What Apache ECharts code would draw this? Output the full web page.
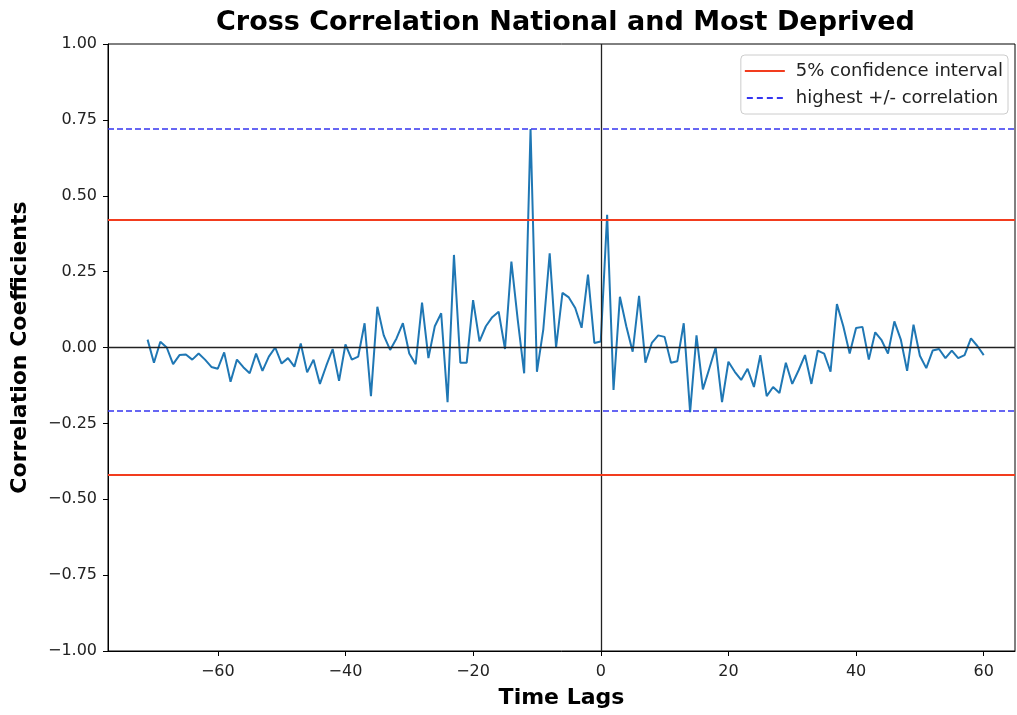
<!DOCTYPE html>
<html>
<head>
<meta charset="utf-8">
<script src="https://cdn.jsdelivr.net/npm/echarts@6/dist/echarts.min.js"></script>
<style>
  html, body { margin: 0; padding: 0; background: #fff; }
  #chart { width: 1017px; height: 715px; }
</style>
</head>
<body>
<div id="chart"></div>
<script>
// first lag of the series, one value per lag after that
var firstLag = -71;
var correlations = [
    0.026, -0.05, 0.019, 0.0, -0.055, -0.025, -0.023, -0.04, -0.02, -0.04,
    -0.064, -0.07, -0.016, -0.113, -0.04, -0.065, -0.085, -0.02, -0.077, -0.03,
    0.0, -0.053, -0.035, -0.063, 0.013, -0.082, -0.04, -0.12, -0.06, -0.005,
    -0.11, 0.01, -0.04, -0.03, 0.08, -0.16, 0.134, 0.04, -0.008, 0.03,
    0.08, -0.02, -0.055, 0.148, -0.035, 0.07, 0.113, -0.18, 0.305, -0.05,
    -0.05, 0.156, 0.02, 0.07, 0.1, 0.118, -0.005, 0.283, 0.09, -0.085,
    0.72, -0.08, 0.06, 0.31, 0.0, 0.18, 0.165, 0.13, 0.065, 0.24,
    0.015, 0.02, 0.437, -0.14, 0.167, 0.07, -0.014, 0.17, -0.05, 0.015,
    0.04, 0.035, -0.05, -0.045, 0.08, -0.213, 0.04, -0.138, -0.07, 0.0,
    -0.18, -0.047, -0.08, -0.107, -0.07, -0.13, -0.025, -0.16, -0.13, -0.15,
    -0.05, -0.12, -0.075, -0.025, -0.12, -0.01, -0.02, -0.08, 0.143, 0.07,
    -0.02, 0.064, 0.068, -0.04, 0.05, 0.024, -0.02, 0.086, 0.027, -0.077,
    0.075, -0.027, -0.068, -0.01, -0.005, -0.035, -0.01, -0.035, -0.025, 0.03,
    0.005, -0.025
];
var confidenceLevel = 0.42;
var highestPos = 0.72;
var highestNeg = -0.213;
var xTicks = [-60, -40, -20, 0, 20, 40, 60];

var points = [];
for (var i = 0; i < correlations.length; i++) {
    points.push([firstLag + i, correlations[i]]);
}

function fmtMinus(s) {
    return String(s).replace('-', '\u2212');
}

var redColor = '#f23c1e';
var blueColor = '#3535f0';
// legend glyphs: plain stroke and a dashed stroke
var solidIcon = 'path://M0,0 H40 V2 H0 Z';
var dashedIcon = 'path://M0,0 H6 V2 H0 Z M10,0 H16 V2 H10 Z M20,0 H26 V2 H20 Z M30,0 H36 V2 H30 Z';

var chart = echarts.init(document.getElementById('chart'), null, {renderer: 'canvas'});

var option = {
    animation: false,
    textStyle: { fontFamily: 'DejaVu Sans' },
    title: {
        text: 'Cross Correlation National and Most Deprived',
        left: 211,
        top: 4,
        textStyle: { fontSize: 27, fontWeight: 'bold', color: '#000', fontFamily: 'DejaVu Sans' }
    },
    legend: {
        right: 9,
        top: 55,
        orient: 'vertical',
        backgroundColor: '#fff',
        borderColor: '#cccccc',
        borderWidth: 1,
        borderRadius: 4,
        padding: [5, 5, 5, 4],
        itemWidth: 40,
        itemHeight: 2,
        itemGap: 5,
        textStyle: { fontSize: 18, color: '#222', fontFamily: 'DejaVu Sans', padding: [0, 0, 0, 6], lineHeight: 22 },
        data: [
            { name: '5% confidence interval', icon: solidIcon },
            { name: 'highest +/- correlation', icon: dashedIcon }
        ]
    },
    grid: {
        left: 108,
        right: 2,
        top: 44,
        bottom: 64,
        show: true,
        borderColor: '#000',
        borderWidth: 1
    },
    xAxis: {
        type: 'value',
        min: -77.2,
        max: 64.9,
        name: 'Time Lags',
        nameLocation: 'middle',
        nameGap: 36,
        nameTextStyle: { fontSize: 22, fontWeight: 'bold', color: '#000' },
        axisLine: { show: true, onZero: false, lineStyle: { color: '#000' } },
        axisTick: { show: true, length: 5, lineStyle: { color: '#000' }, customValues: xTicks },
        axisLabel: {
            fontSize: 16, color: '#222', margin: 13,
            customValues: xTicks,
            formatter: function (v) { return fmtMinus(v); }
        },
        splitLine: { show: false }
    },
    yAxis: {
        type: 'value',
        min: -1,
        max: 1,
        interval: 0.25,
        name: 'Correlation Coefficients',
        nameLocation: 'middle',
        nameGap: 77,
        nameTextStyle: { fontSize: 22, fontWeight: 'bold', color: '#000' },
        axisLine: { show: true, onZero: false, lineStyle: { color: '#000' } },
        axisTick: { show: true, length: 5, lineStyle: { color: '#000' } },
        axisLabel: {
            fontSize: 16, color: '#222', margin: 11,
            formatter: function (v) { return fmtMinus(v.toFixed(2)); }
        },
        splitLine: { show: false }
    },
    series: [
        {
            name: 'correlation',
            type: 'line',
            data: points,
            showSymbol: false,
            symbol: 'none',
            z: 3,
            lineStyle: { color: '#1f77b4', width: 2 },
            itemStyle: { color: '#1f77b4' },
            markLine: {
                silent: true,
                symbol: 'none',
                label: { show: false },
                lineStyle: { color: '#222', type: 'solid', width: 1.3 },
                data: [{ xAxis: 0 }, { yAxis: 0 }]
            }
        },
        {
            name: '5% confidence interval',
            type: 'line',
            data: [],
            symbol: 'none',
            itemStyle: { color: redColor },
            lineStyle: { color: redColor, width: 2, type: 'solid' },
            markLine: {
                silent: true,
                symbol: 'none',
                label: { show: false },
                lineStyle: { color: redColor, type: 'solid', width: 2 },
                data: [{ yAxis: confidenceLevel }, { yAxis: -confidenceLevel }]
            }
        },
        {
            name: 'highest +/- correlation',
            type: 'line',
            data: [],
            symbol: 'none',
            itemStyle: { color: blueColor },
            lineStyle: { color: blueColor, width: 1.5, type: [6, 3] },
            markLine: {
                silent: true,
                symbol: 'none',
                label: { show: false },
                lineStyle: { color: blueColor, type: [6, 3], width: 1.5 },
                data: [{ yAxis: highestPos }, { yAxis: highestNeg }]
            }
        }
    ]
};

chart.setOption(option);
</script>
</body>
</html>
